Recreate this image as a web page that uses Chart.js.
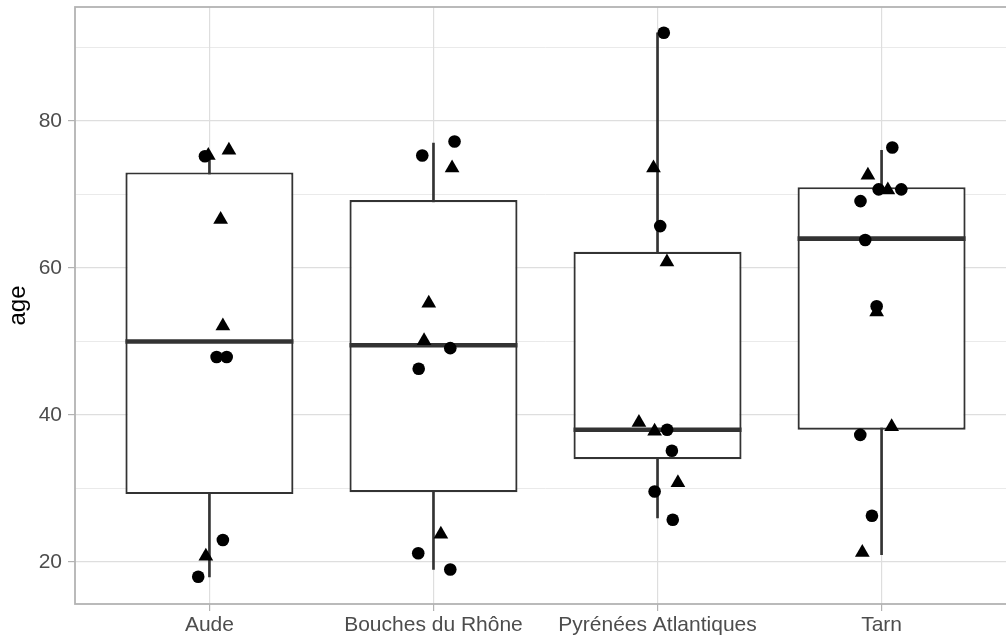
<!DOCTYPE html>
<html>
<head>
<meta charset="utf-8">
<script src="https://cdn.jsdelivr.net/npm/chart.js@4/dist/chart.umd.min.js"></script>
<style>
  html, body { margin: 0; padding: 0; width: 1006px; height: 635px; overflow: hidden; background: #ffffff; }
  canvas { display: block; }
</style>
</head>
<body>
<canvas id="c" width="1016" height="635"></canvas>
<script>
// ---- data ----
const categories = ["Aude", "Bouches du Rhône", "Pyrénées Atlantiques", "Tarn"];
const yTicks = [20, 40, 60, 80];

// box statistics per category
const whiskerLow  = [18, 19, 26, 21];
const q1          = [29.25, 29.5, 34, 38];
const median      = [50, 49.5, 38, 64];
const q3          = [73, 69.25, 62.2, 71];
const whiskerHigh = [75.6, 77, 92, 76];

// jittered observations, shape 16 (circles): group index, jitter, age
const circleGroup  = [1, 1, 1, 1, 1, 2, 2, 2, 2, 2, 2, 3, 3, 3, 3, 3, 3, 4, 4, 4, 4, 4, 4, 4, 4];
const circleJitter = [-0.02, 0.032, 0.077, 0.06, -0.05, 0.094, -0.05, 0.075, -0.066, -0.068, 0.075, 0.028, 0.012, 0.043, 0.064, -0.013, 0.068, 0.048, -0.013, 0.088, -0.094, -0.073, -0.022, -0.095, -0.043];
const circleAge    = [75.2, 47.9, 47.9, 23.0, 18.0, 77.2, 75.3, 49.1, 46.3, 21.2, 19.0, 92.0, 65.7, 38.0, 35.15, 29.6, 25.75, 76.4, 70.7, 70.7, 69.1, 63.8, 54.8, 37.3, 26.3];

// jittered observations, shape 17 (triangles)
const triangleGroup  = [1, 1, 1, 1, 1, 2, 2, 2, 2, 3, 3, 3, 3, 3, 4, 4, 4, 4, 4];
const triangleJitter = [-0.005, 0.087, 0.05, 0.06, -0.016, 0.083, -0.021, -0.042, 0.033, -0.018, 0.042, -0.083, -0.013, 0.091, -0.061, 0.028, -0.022, 0.045, -0.086];
const triangleAge    = [75.3, 76.0, 66.6, 52.1, 20.8, 73.6, 55.2, 50.1, 23.8, 73.6, 60.8, 39.0, 37.8, 30.8, 72.6, 70.6, 54.0, 38.4, 21.3];

// ---- build datasets ----
const boxColor = '#333333';
const whiskerData = categories.map((c, i) => ({ x: i + 1, y: [whiskerLow[i], whiskerHigh[i]] }));
const boxData     = categories.map((c, i) => ({ x: i + 1, y: [q1[i], q3[i]] }));
const medianData  = categories.map((c, i) => ({ x: i + 1, y: median[i] }));
const circleData   = circleAge.map((a, i) => ({ x: circleGroup[i] + circleJitter[i], y: a }));
const triangleData = triangleAge.map((a, i) => ({ x: triangleGroup[i] + triangleJitter[i], y: a }));

const panelBorder = {
  id: 'panelBorder',
  afterDraw(chart) {
    const { ctx, chartArea: a } = chart;
    ctx.save();
    ctx.strokeStyle = '#B3B3B3';
    ctx.lineWidth = 1.8;
    ctx.strokeRect(a.left, a.top, a.right - a.left, a.bottom - a.top);
    ctx.restore();
  }
};

const gridCol = '#DEDEDE';

new Chart(document.getElementById('c'), {
  type: 'bar',
  data: {
    datasets: [
      { type: 'bar', data: whiskerData, backgroundColor: boxColor, borderWidth: 0,
        barThickness: 2, grouped: false, order: 5 },
      { type: 'bar', data: boxData, backgroundColor: '#ffffff', borderColor: boxColor,
        borderWidth: 2.2, borderSkipped: false, barPercentage: 0.75, categoryPercentage: 1,
        grouped: false, order: 4 },
      { type: 'scatter', data: medianData, pointStyle: 'line', pointRadius: 84,
        borderColor: boxColor, borderWidth: 4.6, order: 3 },
      { type: 'scatter', data: circleData, pointStyle: 'circle', pointRadius: 6.3,
        backgroundColor: '#000000', borderWidth: 0, order: 2 },
      { type: 'scatter', data: triangleData, pointStyle: 'triangle', pointRadius: 8.5,
        backgroundColor: '#000000', borderWidth: 0, order: 1 }
    ]
  },
  options: {
    responsive: false,
    animation: false,
    devicePixelRatio: 1,
    events: [],
    layout: { autoPadding: false, padding: { top: 7, right: 0, left: 0, bottom: 0 } },
    plugins: { legend: { display: false }, tooltip: { enabled: false } },
    scales: {
      x: {
        type: 'linear',
        offset: false,
        min: 0.4, max: 4.6,
        afterFit(s) { s.height = 31; s.paddingLeft = 0; s.paddingRight = 0; },
        border: { display: false },
        grid: { offset: false, color: gridCol, lineWidth: 1.2, tickLength: 7, tickColor: '#B3B3B3', tickWidth: 1.2 },
        ticks: {
          stepSize: 1, includeBounds: false, autoSkip: false, maxRotation: 0, minRotation: 0,
          padding: 2, color: '#4D4D4D',
          font: { family: 'Liberation Sans, Arial, sans-serif', size: 21 },
          callback: (v) => categories[v - 1] ?? ''
        }
      },
      y: {
        type: 'linear',
        min: 14.3, max: 95.5,
        afterFit(s) { s.width = 75; s.paddingTop = 0; s.paddingBottom = 0; },
        border: { display: false },
        grid: {
          color: gridCol,
          lineWidth: (ctx) => (ctx.tick && yTicks.includes(ctx.tick.value)) ? 1.2 : 0.65,
          tickLength: 7,
          tickColor: (ctx) => (ctx.tick && yTicks.includes(ctx.tick.value)) ? '#B3B3B3' : 'rgba(0,0,0,0)',
          tickWidth: 1.2
        },
        ticks: {
          stepSize: 10, includeBounds: false, autoSkip: false, padding: 6, color: '#4D4D4D',
          font: { family: 'Liberation Sans, Arial, sans-serif', size: 21 },
          callback: (v) => yTicks.includes(v) ? String(v) : ''
        },
        title: {
          display: true, text: 'age', color: '#000000', padding: { top: 4, bottom: 0 },
          font: { family: 'Liberation Sans, Arial, sans-serif', size: 24, lineHeight: 1.2 }
        }
      }
    }
  },
  plugins: [panelBorder]
});
</script>
</body>
</html>
